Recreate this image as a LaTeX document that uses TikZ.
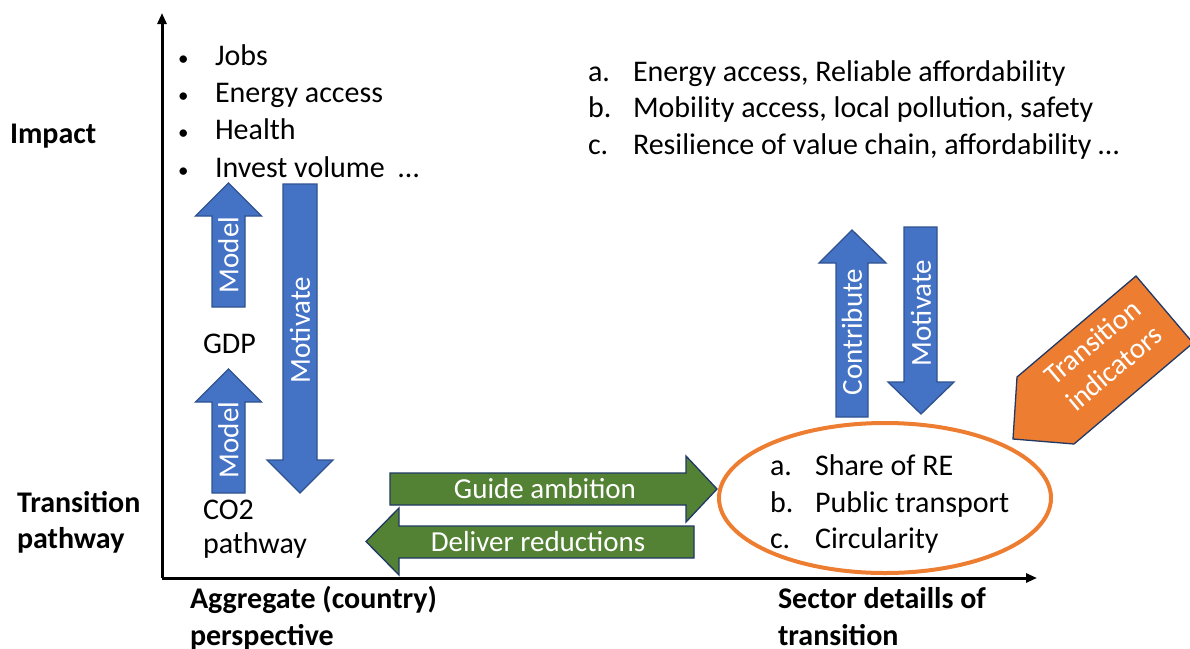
\documentclass[tikz,border=0pt]{standalone}
\usepackage{fontspec}
\setmainfont{Carlito}
\usetikzlibrary{arrows.meta,shapes.geometric}

\definecolor{blockblue}{HTML}{4472C4}
\definecolor{blockedge}{HTML}{2F528F}
\definecolor{blockgreen}{HTML}{548235}
\definecolor{blockorange}{HTML}{ED7D31}
\definecolor{edgenavy}{HTML}{203864}

\begin{document}
\begin{tikzpicture}[x=1pt,y=-1pt,
  every node/.style={inner sep=0pt, outer sep=0pt, font=\fontsize{30}{36}\selectfont},
  txt/.style={anchor=base west},
  dot/.style={anchor=base west, font=\fontsize{21}{24}\selectfont},
  heading/.style={anchor=base west, font=\fontsize{30}{36}\selectfont\bfseries},
  inlabel/.style={text=white, anchor=center, font=\fontsize{29}{34}\selectfont},
  axisline/.style={line width=3pt, -{Triangle[length=11pt,width=9pt]}},
  blueblock/.style={fill=blockblue, draw=blockedge, line width=1.3pt, line join=miter},
  greenblock/.style={fill=blockgreen, draw=edgenavy, line width=1.3pt, line join=miter},
  orangeblock/.style={fill=blockorange, draw=edgenavy, line width=1.3pt, line join=miter},
  ring/.style={ellipse, draw=blockorange, line width=4pt, minimum width=332pt, minimum height=150pt}
]
\useasboundingbox (0,0) rectangle (1190,648);

% axes
\coordinate (origin) at (162,578);
\coordinate (ytip) at (162,13);
\coordinate (xtip) at (1037,578);
\draw[axisline] (origin) -- (ytip);
\draw[axisline] (origin) -- (xtip);

% axis headings
\node[heading] (impact) at (10,143) {Impact};
\node[heading] (tpath1) at (17,512) {Transition};
\node[heading] (tpath2) at (17,548) {pathway};
\node[heading] (aggr1) at (190,608) {Aggregate (country)};
\node[heading] (aggr2) at (190,645) {perspective};
\node[heading] (sect1) at (778,608) {Sector detaills of};
\node[heading] (sect2) at (778,645) {transition};

% impact bullet list
\node[dot] (b1) at (178,65) {•};
\node[dot] (b2) at (178,102) {•};
\node[dot] (b3) at (178,139) {•};
\node[dot] (b4) at (178,177) {•};
\node[txt] (jobs) at (215,65) {Jobs};
\node[txt] (access) at (215,102) {Energy access};
\node[txt] (health) at (215,139) {Health};
\node[txt] (invest) at (215,177) {Invest volume\ \ …};

% sector impacts list
\node[txt] (ia) at (588,81) {a.};
\node[txt] (ib) at (588,117) {b.};
\node[txt] (ic) at (588,154) {c.};
\node[txt] (ta) at (633,81) {Energy access, Reliable affordability};
\node[txt] (tb) at (633,117) {Mobility access, local pollution, safety};
\node[txt] (tc) at (633,154) {Resilience of value chain, affordability …};

% aggregate quantities
\node[txt] (gdp) at (203,353) {GDP};
\node[txt] (co2a) at (203,519) {CO2};
\node[txt] (co2b) at (203,553) {pathway};

% block arrows on the aggregate side
\path[blueblock] (212,307) -- (212,216) -- (195.5,216) -- (228.5,183) -- (261.5,216) -- (245,216) -- (245,307) -- cycle;
\node[inlabel, rotate=90] (model1) at (228.5,255) {Model};
\path[blueblock] (212,493) -- (212,402) -- (195.5,402) -- (228.5,369) -- (261.5,402) -- (245,402) -- (245,493) -- cycle;
\node[inlabel, rotate=90] (model2) at (228.5,440) {Model};
\path[blueblock] (283,184) -- (317,184) -- (317,460) -- (333,460) -- (300,493) -- (267,460) -- (283,460) -- cycle;
\node[inlabel, rotate=90] (motiv1) at (300,330) {Motivate};

% horizontal block arrows
\path[greenblock] (390,473) -- (686,473) -- (686,456) -- (717,489) -- (686,522) -- (686,505) -- (390,505) -- cycle;
\node[inlabel] (guide) at (545,489) {Guide ambition};
\path[greenblock] (694,526) -- (399,526) -- (399,508) -- (366,541.5) -- (399,575) -- (399,558) -- (694,558) -- cycle;
\node[inlabel] (deliver) at (538,542) {Deliver reductions};

% block arrows on the sector side
\path[blueblock] (836,417) -- (836,263) -- (819,263) -- (852,230) -- (886,263) -- (868,263) -- (868,417) -- cycle;
\node[inlabel, rotate=90] (contrib) at (852,332) {Contribute};
\path[blueblock] (904,227) -- (937,227) -- (937,382) -- (954,382) -- (921,414) -- (888,382) -- (904,382) -- cycle;
\node[inlabel, rotate=90] (motiv2) at (921,313) {Motivate};

% transition indicators pointer
\path[orangeblock] (1017,377) -- (1136,276) -- (1193,343) -- (1074,444) -- (1013,439) -- cycle;
\node[inlabel, rotate=40, align=center, font=\fontsize{29}{34}\selectfont] (indic) at (1103,355) {Transition\\indicators};

% sector details
\node[ring] (sector) at (885,498) {};
\node[txt] (sa) at (770,475) {a.};
\node[txt] (sb) at (770,512) {b.};
\node[txt] (sc) at (770,548) {c.};
\node[txt] (share) at (815,475) {Share of RE};
\node[txt] (public) at (815,512) {Public transport};
\node[txt] (circ) at (815,548) {Circularity};
\end{tikzpicture}
\end{document}
